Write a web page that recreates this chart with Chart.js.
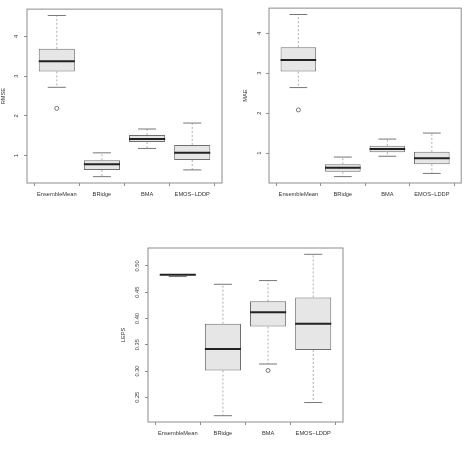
<!DOCTYPE html>
<html>
<head>
<meta charset="utf-8">
<script src="https://cdn.jsdelivr.net/npm/chart.js@4.4.0/dist/chart.umd.min.js"></script>
<style>
  html, body { margin: 0; padding: 0; background: #fff; }
  #pagina { position: relative; width: 466px; height: 449px; overflow: hidden; }
  canvas { position: absolute; }
</style>
</head>
<body>
<div id="pagina">
  <canvas id="rmse" width="233" height="225" style="left:0px;top:0px"></canvas>
  <canvas id="mae" width="233" height="225" style="left:233px;top:0px"></canvas>
  <canvas id="leps" width="266" height="224" style="left:100px;top:225px"></canvas>
</div>
<script>
// categorias (eixo x)
const categorias = ['EnsembleMean', 'BRidge', 'BMA', 'EMOS\u2212LDDP'];
const xRange = [0.34, 4.66];

// cada caixa: [bigode inferior, Q1, mediana, Q3, bigode superior]
const rmseBoxes = [
  [2.72, 3.12, 3.38, 3.69, 4.53],
  [0.47, 0.64, 0.78, 0.88, 1.07],
  [1.18, 1.34, 1.42, 1.52, 1.67],
  [0.64, 0.89, 1.07, 1.27, 1.82]
];
const rmseOutliers = [[0, 2.19]];   // [indice da categoria, valor]
const rmseTicks = [1, 2, 3, 4];
const rmseRange = [0.31, 4.69];

const maeBoxes = [
  [2.64, 3.04, 3.33, 3.65, 4.47],
  [0.41, 0.53, 0.63, 0.72, 0.90],
  [0.92, 1.02, 1.10, 1.18, 1.35],
  [0.49, 0.72, 0.87, 1.03, 1.50]
];
const maeOutliers = [[0, 2.08]];
const maeTicks = [1, 2, 3, 4];
const maeRange = [0.25, 4.63];

const lepsBoxes = [
  [0.4797, 0.4827, 0.4830, 0.4833, 0.4835],
  [0.215, 0.301, 0.342, 0.390, 0.465],
  [0.3133, 0.3845, 0.412, 0.4326, 0.472],
  [0.240, 0.340, 0.390, 0.440, 0.522]
];
const lepsOutliers = [[2, 0.301]];
const lepsTicks = [0.25, 0.30, 0.35, 0.40, 0.45, 0.50];
const lepsRange = [0.203, 0.534];

const fonte = { family: '"Liberation Sans", Arial, sans-serif', size: 5.7 };
const corTexto = '#333';
const corEixo = '#8c8c8c';

// desenha bigodes, tampas, medianas e moldura usando as escalas do grafico
function extrasBoxplot(boxes) {
  return {
    id: 'extrasBoxplot',
    beforeDatasetsDraw(chart) {
      const { ctx, scales: { x, y } } = chart;
      ctx.save();
      ctx.strokeStyle = '#9a9a9a';
      ctx.lineWidth = 0.8;
      ctx.setLineDash([2, 2]);
      boxes.forEach((b, i) => {
        const cx = x.getPixelForValue(i + 1);
        ctx.beginPath();
        ctx.moveTo(cx, y.getPixelForValue(b[3]));
        ctx.lineTo(cx, y.getPixelForValue(b[4]));
        ctx.moveTo(cx, y.getPixelForValue(b[1]));
        ctx.lineTo(cx, y.getPixelForValue(b[0]));
        ctx.stroke();
      });
      ctx.restore();
    },
    afterDatasetsDraw(chart) {
      const { ctx, chartArea, scales: { x, y } } = chart;
      ctx.save();
      boxes.forEach((b, i) => {
        const capL = x.getPixelForValue(i + 1 - 0.2);
        const capR = x.getPixelForValue(i + 1 + 0.2);
        ctx.strokeStyle = '#777';
        ctx.lineWidth = 1;
        ctx.beginPath();
        [b[0], b[4]].forEach(v => {
          const py = y.getPixelForValue(v);
          ctx.moveTo(capL, py);
          ctx.lineTo(capR, py);
        });
        ctx.stroke();
        // mediana
        const boxL = x.getPixelForValue(i + 1 - 0.4);
        const boxR = x.getPixelForValue(i + 1 + 0.4);
        const my = y.getPixelForValue(b[2]);
        ctx.strokeStyle = '#222';
        ctx.lineWidth = 2;
        ctx.beginPath();
        ctx.moveTo(boxL, my);
        ctx.lineTo(boxR, my);
        ctx.stroke();
      });
      // moldura (box)
      ctx.strokeStyle = corEixo;
      ctx.lineWidth = 1;
      ctx.strokeRect(chartArea.left, chartArea.top, chartArea.width, chartArea.height);
      ctx.restore();
    }
  };
}

function criarPainel(id, boxes, outliers, yTicks, yRange, yTitulo, cfg) {
  const ctx = document.getElementById(id).getContext('2d');
  return new Chart(ctx, {
    type: 'bar',
    data: {
      datasets: [{
        label: yTitulo,
        data: boxes.map((b, i) => ({ x: i + 1, y: [b[1], b[3]] })),
        backgroundColor: '#e6e6e6',
        borderColor: '#6e6e6e',
        borderWidth: 1,
        borderSkipped: false,
        categoryPercentage: 1,
        barPercentage: 0.8
      }, {
        type: 'scatter',
        label: 'outliers',
        data: outliers.map(o => ({ x: o[0] + 1, y: o[1] })),
        pointRadius: 2,
        pointStyle: 'circle',
        backgroundColor: 'rgba(0,0,0,0)',
        borderColor: '#555',
        borderWidth: 0.8
      }]
    },
    options: {
      responsive: false,
      animation: false,
      devicePixelRatio: 1,
      layout: { padding: cfg.padding },
      plugins: { legend: { display: false }, tooltip: { enabled: false } },
      scales: {
        x: {
          type: 'linear',
          min: xRange[0],
          max: xRange[1],
          offset: false,
          afterBuildTicks: s => { s.ticks = categorias.map((c, i) => ({ value: i + 1 })); },
          afterFit: s => { s.height = 20; },
          ticks: {
            callback: v => categorias[Math.round(v) - 1],
            font: fonte, color: corTexto, padding: 5,
            autoSkip: false, maxRotation: 0, minRotation: 0
          },
          grid: { drawOnChartArea: false, drawTicks: true, tickLength: 3, color: corEixo },
          border: { display: false }
        },
        y: {
          type: 'linear',
          min: yRange[0],
          max: yRange[1],
          afterBuildTicks: s => { s.ticks = yTicks.map(v => ({ value: v })); },
          afterFit: s => { s.width = cfg.yWidth; },
          ticks: {
            callback: v => cfg.fmt(v),
            font: fonte, color: corTexto, padding: cfg.yPad,
            minRotation: 90, maxRotation: 90, crossAlign: 'center'
          },
          title: {
            display: true, text: yTitulo, font: fonte, color: corTexto,
            padding: { top: cfg.titlePad, bottom: 0 }
          },
          grid: { drawOnChartArea: false, drawTicks: true, tickLength: 3, color: corEixo },
          border: { display: false }
        }
      }
    },
    plugins: [extrasBoxplot(boxes)]
  });
}

criarPainel('rmse', rmseBoxes, rmseOutliers, rmseTicks, rmseRange, 'RMSE', {
  padding: { left: 0, right: 11, top: 8, bottom: 22 },
  yWidth: 27, yPad: 5.7, titlePad: 0.5, fmt: v => String(v)
});
criarPainel('mae', maeBoxes, maeOutliers, maeTicks, maeRange, 'MAE', {
  padding: { left: 0, right: 1, top: 8, bottom: 22 },
  yWidth: 36, yPad: 4.7, titlePad: 8.6, fmt: v => String(v)
});
criarPainel('leps', lepsBoxes, lepsOutliers, lepsTicks, lepsRange, 'LEPS', {
  padding: { left: 0, right: 23, top: 23, bottom: 7 },
  yWidth: 48, yPad: 2.2, titlePad: 19.6, fmt: v => v.toFixed(2)
});
</script>
</body>
</html>
